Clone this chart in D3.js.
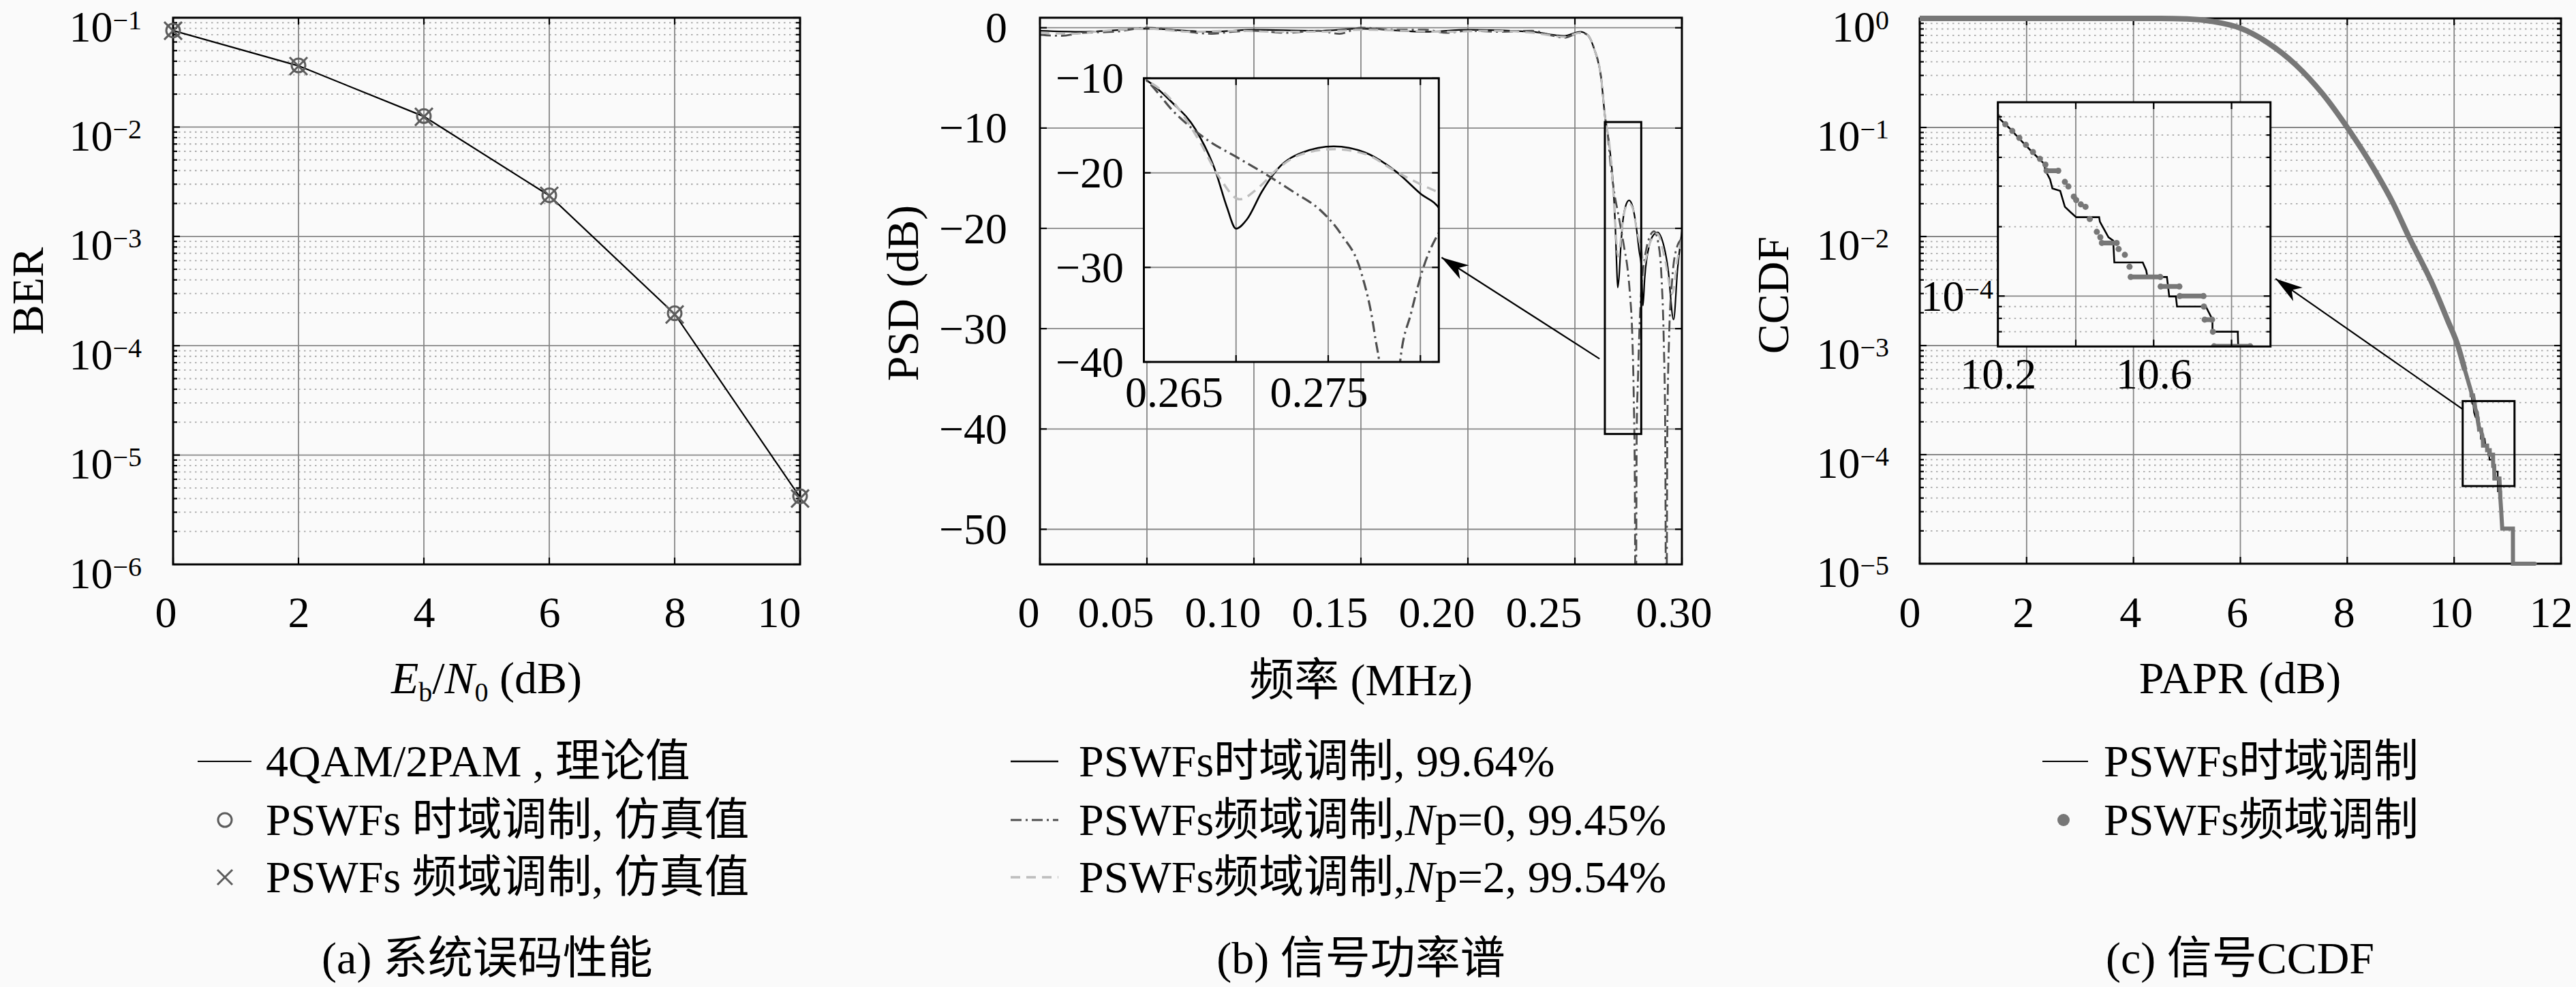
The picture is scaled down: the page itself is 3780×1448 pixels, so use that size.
<!DOCTYPE html>
<html>
<head>
<meta charset="utf-8">
<script src="https://cdn.jsdelivr.net/npm/d3@7"></script>
<style>
  body { margin: 0; background: #fafafa; }
</style>
</head>
<body>
<svg id="fig"></svg>
<script>
// ---- (a) BER ----
const ebn0 = [0, 2, 4, 6, 8, 10];
const berTheory = [0.0762, 0.0363, 0.0125, 0.00236, 0.000195, 4.1e-6];
const berTime = [0.0765, 0.0366, 0.0126, 0.00238, 0.000198, 4.2e-6];
const berFreq = [0.0760, 0.0361, 0.0124, 0.00235, 0.000193, 4.0e-6];
const berTicksX = [0, 2, 4, 6, 8, 10];
const berTicksY = [1e-6, 1e-5, 1e-4, 1e-3, 1e-2, 1e-1];
const berLegend = ["4QAM/2PAM , 理论值", "PSWFs 时域调制, 仿真值", "PSWFs 频域调制, 仿真值"];

// ---- (b) PSD ----
const psdTimeF = [0, 0.02, 0.05, 0.08, 0.10, 0.13, 0.15, 0.18, 0.20, 0.23, 0.245, 0.2525, 0.2558, 0.259, 0.2622,
  0.2643, 0.265, 0.2665, 0.2678, 0.2689, 0.2695, 0.2700, 0.2706, 0.2714, 0.2723, 0.2736, 0.2753, 0.2770, 0.2787,
  0.2800, 0.2811, 0.2818, 0.2826, 0.2850, 0.2870, 0.2887, 0.2905, 0.2935, 0.2961, 0.2980, 0.3000];
const psdTimeDb = [-0.3, -0.4, -0.1, -0.4, -0.2, -0.3, -0.1, -0.4, -0.2, -0.4, -0.8, -0.4, -0.7, -2.1, -4.9,
  -9.2, -10.0, -12.5, -15.4, -19.9, -23.6, -25.9, -24.9, -22.0, -19.5, -17.85, -17.2, -17.85, -19.9,
  -22.2, -24.0, -27.7, -25.0, -21.5, -20.6, -20.4, -21.0, -24.0, -29.1, -24.0, -20.3];
const psdNp0F = [0, 0.01, 0.02, 0.035, 0.05, 0.065, 0.08, 0.09, 0.10, 0.115, 0.13, 0.14, 0.15, 0.165, 0.18,
  0.19, 0.20, 0.215, 0.23, 0.238, 0.245, 0.2525, 0.2558, 0.259, 0.2622, 0.2643, 0.265, 0.2667, 0.2685, 0.2700,
  0.2714, 0.2731, 0.2746, 0.2757, 0.2768, 0.2775, 0.2780, 0.2784, 0.2789, 0.2795, 0.2802, 0.2811, 0.2830,
  0.2850, 0.2870, 0.2890, 0.2905, 0.2915, 0.2922, 0.2927, 0.2932, 0.2940, 0.2955, 0.2975, 0.3000];
const psdNp0Db = [-0.7, -0.8, -0.5, -0.4, 0.0, -0.3, -0.6, -0.4, -0.3, -0.5, -0.3, -0.6, 0.0, -0.2, -0.2,
  -0.5, -0.3, -0.4, -0.3, -0.7, -1.0, -0.5, -0.7, -2.1, -4.9, -9.2, -10.0, -13.7, -16.6, -18.3,
  -19.9, -22.0, -24.0, -26.5, -30.6, -36.8, -45.0, -65.0, -40.0, -34.8, -29.8, -26.0, -22.5,
  -20.8, -20.3, -21.5, -25.0, -31.0, -40.0, -65.0, -40.0, -31.0, -25.0, -22.0, -21.0];
const psdNp2F = [0, 0.015, 0.03, 0.05, 0.07, 0.09, 0.11, 0.13, 0.15, 0.17, 0.19, 0.21, 0.23, 0.245, 0.2525,
  0.2558, 0.259, 0.2622, 0.2643, 0.265, 0.2665, 0.2680, 0.2691, 0.2702, 0.2712, 0.2723, 0.2736, 0.2753, 0.2770,
  0.2787, 0.2800, 0.2811, 0.2822, 0.2850, 0.2885, 0.2920, 0.2955, 0.2980, 0.3000];
const psdNp2Db = [-0.5, -0.6, -0.3, -0.1, -0.4, -0.3, -0.4, -0.4, -0.2, -0.3, -0.4, -0.3, -0.5, -0.9, -0.5,
  -0.7, -2.1, -4.9, -9.2, -10.0, -12.3, -16.6, -20.5, -22.8, -21.6, -19.5, -18.0, -17.5, -18.0,
  -19.9, -21.2, -22.2, -23.5, -21.5, -20.5, -23.0, -26.5, -23.0, -21.0];
const psdTicksX = [0, 0.05, 0.10, 0.15, 0.20, 0.25, 0.30];
const psdTickLabelsX = ["0", "0.05", "0.10", "0.15", "0.20", "0.25", "0.30"];
const psdTicksY = [0, -10, -20, -30, -40, -50];
const psdZoomTicksX = [0.265, 0.27, 0.275, 0.28];
const psdZoomLabelsX = [0.265, 0.275];
const psdZoomTicksY = [-10, -20, -30, -40];
const psdLegend = ["PSWFs时域调制, 99.64%", "PSWFs频域调制,Np=0, 99.45%", "PSWFs频域调制,Np=2, 99.54%"];

// ---- (c) CCDF ----
const ccdfBodyX = [0, 4.5, 5.0, 5.49, 6.0, 6.52, 7.03, 7.54, 8.0, 8.49, 8.86, 9.15, 9.59, 9.88, 10.07, 10.2];
const ccdfBodyY = [1, 1, 0.99, 0.936, 0.814, 0.595, 0.378, 0.203, 0.1, 0.0424, 0.0201, 0.01, 0.0037, 0.0017, 0.001, 5.98e-4];
const ccdfTimeTailX = [10.20, 10.231, 10.259, 10.288, 10.318, 10.322, 10.334, 10.340, 10.360, 10.372, 10.387,
  10.401, 10.460, 10.462, 10.484, 10.496, 10.499, 10.572, 10.581, 10.584, 10.634, 10.640, 10.657, 10.660,
  10.734, 10.751, 10.751, 10.816, 10.819, 10.88, 10.88, 11.09, 11.09];
const ccdfTimeTailY = [5.98e-4, 5.33e-4, 4.74e-4, 4.22e-4, 3.76e-4, 3.51e-4, 3.21e-4, 2.93e-4, 2.86e-4, 2.44e-4, 2.31e-4,
  2.20e-4, 2.20e-4, 2.10e-4, 1.80e-4, 1.74e-4, 1.40e-4, 1.40e-4, 1.29e-4, 1.21e-4, 1.21e-4, 9.96e-5, 9.96e-5, 9.0e-5,
  9.0e-5, 7.9e-5, 7.0e-5, 7.0e-5, 4.6e-5, 4.6e-5, 2.1e-5, 2.1e-5, 1.0e-5];
const ccdfFreqTailX = [10.20, 10.219, 10.237, 10.255, 10.272, 10.290, 10.308, 10.322, 10.325, 10.355, 10.372,
  10.381, 10.395, 10.401, 10.413, 10.425, 10.436, 10.454, 10.463, 10.467, 10.505, 10.510, 10.526, 10.538,
  10.541, 10.617, 10.618, 10.666, 10.667, 10.728, 10.729, 10.731, 10.750, 10.752, 10.755, 10.848, 10.855,
  10.865, 10.880, 10.900, 11.100, 11.101, 11.510];
const ccdfFreqTailY = [5.98e-4, 5.57e-4, 5.21e-4, 4.86e-4, 4.53e-4, 4.22e-4, 3.94e-4, 3.72e-4, 3.5e-4, 3.5e-4, 3.13e-4,
  2.99e-4, 2.7e-4, 2.61e-4, 2.5e-4, 2.44e-4, 2.16e-4, 1.9e-4, 1.8e-4, 1.7e-4, 1.7e-4, 1.6e-4, 1.51e-4, 1.34e-4,
  1.21e-4, 1.21e-4, 1.10e-4, 1.10e-4, 1.0e-4, 1.0e-4, 9.0e-5, 7.9e-5, 7.9e-5, 7.0e-5, 6.05e-5, 6.05e-5, 5.0e-5,
  4.0e-5, 3.1e-5, 2.1e-5, 2.1e-5, 1.0e-5, 1.0e-5];
const ccdfTicksX = [0, 2, 4, 6, 8, 10, 12];
const ccdfTicksY = [1e-5, 1e-4, 1e-3, 1e-2, 1e-1, 1];
const ccdfZoomTicksX = [10.2, 10.4, 10.6, 10.8];
const ccdfZoomLabelsX = [10.2, 10.6];
const ccdfLegend = ["PSWFs时域调制", "PSWFs频域调制"];

// ---------- drawing ----------
const W = 3780, H = 1448;
const BG = "#fafafa", GRID = "#868686", MINOR = "#a8a8a8";
const SERIF = '"Liberation Serif", "Noto Sans CJK SC", serif';
const TICK_FS = 64, SUP_FS = 40, LAB_FS = 66;

const svg = d3.select("#fig").attr("width", W).attr("height", H).style("display", "block")
  .attr("font-family", SERIF);
svg.append("rect").attr("width", W).attr("height", H).attr("fill", BG);
const defs = svg.append("defs");

function area(x, y) {
  return { x0: x.range()[0], x1: x.range()[1], yb: y.range()[0], yt: y.range()[1] };
}

function minorLog(scale) {
  const [lo, hi] = scale.domain();
  const vals = [];
  for (let e = Math.floor(Math.log10(lo)); e <= Math.ceil(Math.log10(hi)); e++) {
    for (let m = 2; m <= 9; m++) {
      const v = m * Math.pow(10, e);
      if (v > lo * 1.0001 && v < hi * 0.9999) vals.push(v);
    }
  }
  return vals;
}

function clipFor(id, x, y) {
  const a = area(x, y);
  defs.append("clipPath").attr("id", id).append("rect")
    .attr("x", a.x0).attr("y", a.yt).attr("width", a.x1 - a.x0).attr("height", a.yb - a.yt);
  return "url(#" + id + ")";
}

function background(g, x, y) {
  const a = area(x, y);
  g.append("rect").attr("x", a.x0).attr("y", a.yt).attr("width", a.x1 - a.x0).attr("height", a.yb - a.yt)
    .attr("fill", BG);
}

function grid(g, x, y, xs, ys, yMinor) {
  const a = area(x, y);
  if (yMinor) {
    g.append("g").selectAll("line").data(yMinor).join("line")
      .attr("x1", a.x0).attr("x2", a.x1).attr("y1", d => y(d)).attr("y2", d => y(d))
      .attr("stroke", MINOR).attr("stroke-width", 1.8).attr("stroke-dasharray", "2.5 5.5");
  }
  g.append("g").selectAll("line").data(xs).join("line")
    .attr("x1", d => x(d)).attr("x2", d => x(d)).attr("y1", a.yt).attr("y2", a.yb)
    .attr("stroke", GRID).attr("stroke-width", 1.8);
  g.append("g").selectAll("line").data(ys).join("line")
    .attr("x1", a.x0).attr("x2", a.x1).attr("y1", d => y(d)).attr("y2", d => y(d))
    .attr("stroke", GRID).attr("stroke-width", 1.8);
}

function frame(g, x, y, xs, ys, yMinor) {
  const a = area(x, y);
  const t = g.append("g").attr("stroke", "#000").attr("stroke-width", 2.2);
  xs.forEach(v => {
    t.append("line").attr("x1", x(v)).attr("x2", x(v)).attr("y1", a.yb).attr("y2", a.yb - 10);
    t.append("line").attr("x1", x(v)).attr("x2", x(v)).attr("y1", a.yt).attr("y2", a.yt + 10);
  });
  ys.forEach(v => {
    t.append("line").attr("x1", a.x0).attr("x2", a.x0 + 10).attr("y1", y(v)).attr("y2", y(v));
    t.append("line").attr("x1", a.x1).attr("x2", a.x1 - 10).attr("y1", y(v)).attr("y2", y(v));
  });
  (yMinor || []).forEach(v => {
    t.append("line").attr("x1", a.x0).attr("x2", a.x0 + 6).attr("y1", y(v)).attr("y2", y(v));
    t.append("line").attr("x1", a.x1).attr("x2", a.x1 - 6).attr("y1", y(v)).attr("y2", y(v));
  });
  g.append("rect").attr("x", a.x0).attr("y", a.yt).attr("width", a.x1 - a.x0).attr("height", a.yb - a.yt)
    .attr("fill", "none").attr("stroke", "#000").attr("stroke-width", 3);
}

function xLabels(g, x, yBase, vals, fmt, shift) {
  const ax = g.append("g").attr("transform", `translate(0,${yBase})`)
    .call(d3.axisBottom(x).tickValues(vals).tickSize(0).tickPadding(0).tickFormat(fmt));
  ax.select(".domain").remove();
  ax.attr("font-family", SERIF).attr("font-size", TICK_FS);
  ax.selectAll(".tick text").attr("y", 0).attr("dy", null).attr("fill", "#000")
    .attr("dx", (d, i) => shift ? shift(i, vals.length) : 0);
}

function yLabels(g, y, xRight, vals, fmt) {
  const ax = g.append("g").attr("transform", `translate(${xRight},0)`)
    .call(d3.axisLeft(y).tickValues(vals).tickSize(0).tickPadding(0).tickFormat(fmt));
  ax.select(".domain").remove();
  ax.attr("font-family", SERIF).attr("font-size", TICK_FS);
  ax.selectAll(".tick text").attr("x", 0).attr("dy", "0.33em").attr("fill", "#000");
}

function yPowLabels(g, y, xRight, vals, yOff) {
  const ax = g.append("g").attr("transform", `translate(${xRight},0)`)
    .call(d3.axisLeft(y).tickValues(vals).tickSize(0).tickPadding(0).tickFormat(() => ""));
  ax.select(".domain").remove();
  ax.attr("font-family", SERIF).attr("font-size", TICK_FS);
  ax.selectAll(".tick text").attr("x", 0).attr("dy", null).attr("y", yOff).attr("fill", "#000")
    .each(function (d) {
      const e = Math.round(Math.log10(d));
      const t = d3.select(this);
      t.append("tspan").text("10");
      t.append("tspan").attr("dy", -18).attr("font-size", SUP_FS).text(e < 0 ? "\u2212" + (-e) : String(e));
    });
}

function yTitle(g, xBase, yMid, txt) {
  g.append("text").attr("transform", `translate(${xBase},${yMid}) rotate(-90)`)
    .attr("text-anchor", "middle").attr("font-size", LAB_FS).text(txt);
}

function caption(g, xMid, txt) {
  g.append("text").attr("x", xMid).attr("y", 1428).attr("text-anchor", "middle")
    .attr("font-size", LAB_FS).text(txt);
}

function arrow(g, x1, y1, x2, y2) {
  g.append("line").attr("x1", x1).attr("y1", y1).attr("x2", x2).attr("y2", y2)
    .attr("stroke", "#000").attr("stroke-width", 2.2);
  const L = 40, w = 12;
  const ang = Math.atan2(y2 - y1, x2 - x1);
  const ux = Math.cos(ang), uy = Math.sin(ang), nx = -uy, ny = ux;
  const pts = [
    [x2, y2],
    [x2 - L * ux + w * nx, y2 - L * uy + w * ny],
    [x2 - 0.72 * L * ux, y2 - 0.72 * L * uy],
    [x2 - L * ux - w * nx, y2 - L * uy - w * ny]
  ];
  g.append("polygon").attr("points", pts.map(p => p.join(",")).join(" ")).attr("fill", "#000");
}

const crossPath = s => `M${-s},${-s}L${s},${s}M${-s},${s}L${s},${-s}`;
const legendRows = [1117, 1203, 1287];

// ================= (a) =================
const xA = d3.scaleLinear().domain([0, 10]).range([254, 1174]);
const yA = d3.scaleLog().domain([1e-6, 1e-1]).range([828, 26]);
const gA = svg.append("g");
background(gA, xA, yA);
grid(gA, xA, yA, [2, 4, 6, 8], berTicksY, minorLog(yA));
gA.append("path").datum(d3.zip(ebn0, berTheory))
  .attr("d", d3.line().x(d => xA(d[0])).y(d => yA(d[1])))
  .attr("fill", "none").attr("stroke", "#000").attr("stroke-width", 2.2);
frame(gA, xA, yA, berTicksX, berTicksY, minorLog(yA));
gA.append("g").selectAll("circle").data(d3.zip(ebn0, berTime)).join("circle")
  .attr("cx", d => xA(d[0])).attr("cy", d => yA(d[1])).attr("r", 10)
  .attr("fill", "none").attr("stroke", "#5c5c5c").attr("stroke-width", 3);
gA.append("g").selectAll("path").data(d3.zip(ebn0, berFreq)).join("path")
  .attr("transform", d => `translate(${xA(d[0])},${yA(d[1])})`).attr("d", crossPath(13))
  .attr("stroke", "#5c5c5c").attr("stroke-width", 3);
xLabels(gA, xA, 920, berTicksX, d3.format("d"), (i, n) => i === 0 ? -11 : (i === n - 1 ? -31 : 0));
yPowLabels(gA, yA, 208, berTicksY, 34);
yTitle(gA, 63, 427, "BER");
{
  const t = gA.append("text").attr("x", 714).attr("y", 1017).attr("text-anchor", "middle").attr("font-size", LAB_FS);
  t.append("tspan").attr("font-style", "italic").text("E");
  t.append("tspan").attr("font-size", 40).attr("dy", 12).text("b");
  t.append("tspan").attr("dy", -12).text("/");
  t.append("tspan").attr("font-style", "italic").text("N");
  t.append("tspan").attr("font-size", 40).attr("dy", 12).text("0");
  t.append("tspan").attr("dy", -12).text(" (dB)");
}
// legend (a)
const legA = gA.append("g");
legA.append("line").attr("x1", 290).attr("x2", 369).attr("y1", legendRows[0]).attr("y2", legendRows[0])
  .attr("stroke", "#000").attr("stroke-width", 2.2);
legA.append("circle").attr("cx", 330).attr("cy", legendRows[1]).attr("r", 10)
  .attr("fill", "none").attr("stroke", "#5c5c5c").attr("stroke-width", 3);
legA.append("path").attr("transform", `translate(330,${legendRows[2]})`).attr("d", crossPath(11))
  .attr("stroke", "#5c5c5c").attr("stroke-width", 3);
legA.selectAll("text").data(berLegend).join("text")
  .attr("x", 390).attr("y", (d, i) => legendRows[i] + 22).attr("font-size", LAB_FS).text(d => d);
caption(gA, 715, "(a) 系统误码性能");

// ================= (b) =================
const xB = d3.scaleLinear().domain([0, 0.30]).range([1526, 2468]);
const yB = d3.scaleLinear().domain([-53.5, 1]).range([828, 26]);
const gB = svg.append("g");
const psdStyles = [
  { stroke: "#000", width: 2.2, dash: null },
  { stroke: "#4e4e4e", width: 2.8, dash: "16 6 3 6" },
  { stroke: "#bdbdbd", width: 3.0, dash: "14 9" }
];
const psdData = [d3.zip(psdTimeF, psdTimeDb), d3.zip(psdNp0F, psdNp0Db), d3.zip(psdNp2F, psdNp2Db)];

background(gB, xB, yB);
grid(gB, xB, yB, psdTicksX, psdTicksY, null);
const clipB = clipFor("clipB", xB, yB);
const lineB = d3.line().curve(d3.curveMonotoneX).x(d => xB(d[0])).y(d => yB(d[1]));
gB.append("g").attr("clip-path", clipB).selectAll("path").data(psdData).join("path")
  .attr("d", lineB).attr("fill", "none")
  .attr("stroke", (d, i) => psdStyles[i].stroke).attr("stroke-width", (d, i) => psdStyles[i].width)
  .attr("stroke-dasharray", (d, i) => psdStyles[i].dash);
frame(gB, xB, yB, psdTicksX, psdTicksY, null);
xLabels(gB, xB, 920, psdTicksX, (d, i) => psdTickLabelsX[i], (i, n) => i === 0 ? -17 : (i === n - 1 ? -12 : -46));
yLabels(gB, yB, 1478, psdTicksY, d => d < 0 ? "\u2212" + (-d) : String(d));
yTitle(gB, 1347, 430, "PSD (dB)");
gB.append("text").attr("x", 1997).attr("y", 1020).attr("text-anchor", "middle").attr("font-size", LAB_FS)
  .text("频率 (MHz)");

// zoom rectangle and arrow
gB.append("rect").attr("x", xB(0.264)).attr("y", yB(-9.4))
  .attr("width", xB(0.281) - xB(0.264)).attr("height", yB(-40.5) - yB(-9.4))
  .attr("fill", "none").attr("stroke", "#000").attr("stroke-width", 3);
arrow(gB, xB(0.2615), yB(-33.0), xB(0.1877), yB(-22.9));

// inset (b)
const xBi = d3.scaleLinear().domain([0.265, 0.281]).range([1678.5, 2111.3]);
const yBi = d3.scaleLinear().domain([-40, -10]).range([531, 114.8]);
background(gB, xBi, yBi);
grid(gB, xBi, yBi, psdZoomTicksX, psdZoomTicksY, null);
const clipBi = clipFor("clipBi", xBi, yBi);
const lineBi = d3.line().curve(d3.curveMonotoneX).x(d => xBi(d[0])).y(d => yBi(d[1]));
gB.append("g").attr("clip-path", clipBi).selectAll("path").data(psdData).join("path")
  .attr("d", lineBi).attr("fill", "none")
  .attr("stroke", (d, i) => psdStyles[i].stroke).attr("stroke-width", (d, i) => psdStyles[i].width + 0.4)
  .attr("stroke-dasharray", (d, i) => psdStyles[i].dash);
frame(gB, xBi, yBi, psdZoomTicksX, psdZoomTicksY, null);
xLabels(gB, xBi, 597, psdZoomLabelsX, d3.format(".3f"), i => i === 0 ? 44 : -14);
yLabels(gB, yBi, 1649, psdZoomTicksY, d => "\u2212" + (-d));

// legend (b)
const legB = gB.append("g");
legB.selectAll("line").data(psdStyles).join("line")
  .attr("x1", 1483).attr("x2", 1553).attr("y1", (d, i) => legendRows[i]).attr("y2", (d, i) => legendRows[i])
  .attr("stroke", d => d.stroke).attr("stroke-width", d => d.width + 0.4).attr("stroke-dasharray", d => d.dash);
legB.selectAll("text").data(psdLegend).join("text")
  .attr("x", 1583).attr("y", (d, i) => legendRows[i] + 22).attr("font-size", LAB_FS)
  .each(function (d) {
    const t = d3.select(this);
    d.split("N").forEach((part, k) => {
      if (k > 0) t.append("tspan").attr("font-style", "italic").text("N");
      t.append("tspan").text(part);
    });
  });
caption(gB, 1997, "(b) 信号功率谱");

// ================= (c) =================
const xC = d3.scaleLinear().domain([0, 12]).range([2817, 3758]);
const yC = d3.scaleLog().domain([1e-5, 1]).range([827, 27]);
const gC = svg.append("g");
const GRAY = "#777";
const body = d3.zip(ccdfBodyX, ccdfBodyY);
const timeTail = d3.zip(ccdfTimeTailX, ccdfTimeTailY);
const freqTail = d3.zip(ccdfFreqTailX, ccdfFreqTailY);

background(gC, xC, yC);
grid(gC, xC, yC, ccdfTicksX, ccdfTicksY, minorLog(yC));
frame(gC, xC, yC, ccdfTicksX, ccdfTicksY, minorLog(yC));
const bodyLine = d3.line().curve(d3.curveMonotoneX).x(d => xC(d[0])).y(d => yC(d[1]));
const tailLine = d3.line().x(d => xC(d[0])).y(d => yC(d[1]));
gC.append("path").datum(body).attr("d", bodyLine).attr("fill", "none").attr("stroke", "#000").attr("stroke-width", 2.2);
gC.append("path").datum(timeTail).attr("d", tailLine).attr("fill", "none").attr("stroke", "#000").attr("stroke-width", 2.2);
gC.append("path").datum(body).attr("d", bodyLine).attr("fill", "none").attr("stroke", GRAY).attr("stroke-width", 8);
gC.append("path").datum(freqTail).attr("d", tailLine).attr("fill", "none").attr("stroke", GRAY)
  .attr("stroke-width", 6).attr("stroke-linecap", "round");
xLabels(gC, xC, 920, ccdfTicksX, d3.format("d"), (i, n) => (i === 0 || i === n - 1) ? -15 : -5);
yPowLabels(gC, yC, 2772, ccdfTicksY, 33);
yTitle(gC, 2624, 433, "CCDF");
gC.append("text").attr("x", 3287).attr("y", 1017).attr("text-anchor", "middle").attr("font-size", LAB_FS)
  .text("PAPR (dB)");

// zoom rectangle and arrow
gC.append("rect").attr("x", xC(10.16)).attr("y", yC(3.1e-4))
  .attr("width", xC(11.13) - xC(10.16)).attr("height", yC(5.15e-5) - yC(3.1e-4))
  .attr("fill", "none").attr("stroke", "#000").attr("stroke-width", 3);
arrow(gC, xC(10.156), yC(2.62e-4), xC(6.658), yC(4.1e-3));

// inset (c)
const xCi = d3.scaleLinear().domain([10.2, 10.9]).range([2931.7, 3331.7]);
const yCi = d3.scaleLog().domain([6.04e-5, 6.94e-4]).range([508.3, 150]);
background(gC, xCi, yCi);
grid(gC, xCi, yCi, ccdfZoomTicksX, [1e-4], minorLog(yCi));
const clipCi = clipFor("clipCi", xCi, yCi);
const gCi = gC.append("g").attr("clip-path", clipCi);
gCi.append("path").datum(timeTail)
  .attr("d", d3.line().x(d => xCi(d[0])).y(d => yCi(d[1])))
  .attr("fill", "none").attr("stroke", "#000").attr("stroke-width", 2.6);
const runs = d3.pairs(freqTail).filter(p => p[0][1] === p[1][1]);
gCi.append("g").selectAll("line").data(runs).join("line")
  .attr("x1", p => xCi(p[0][0])).attr("x2", p => xCi(p[1][0]))
  .attr("y1", p => yCi(p[0][1])).attr("y2", p => yCi(p[1][1]))
  .attr("stroke", GRAY).attr("stroke-width", 7).attr("stroke-linecap", "round");
gCi.append("g").selectAll("circle").data(freqTail).join("circle")
  .attr("cx", d => xCi(d[0])).attr("cy", d => yCi(d[1])).attr("r", 4.5).attr("fill", GRAY);
frame(gC, xCi, yCi, ccdfZoomTicksX, [1e-4], minorLog(yCi));
xLabels(gC, xCi, 570, ccdfZoomLabelsX, d3.format(".1f"), null);
yPowLabels(gC, yCi, 2925, [1e-4], 21);

// legend (c)
const legC = gC.append("g");
legC.append("line").attr("x1", 2997).attr("x2", 3064).attr("y1", legendRows[0]).attr("y2", legendRows[0])
  .attr("stroke", "#000").attr("stroke-width", 2.2);
legC.append("circle").attr("cx", 3028).attr("cy", legendRows[1]).attr("r", 9).attr("fill", GRAY);
legC.selectAll("text").data(ccdfLegend).join("text")
  .attr("x", 3087).attr("y", (d, i) => legendRows[i] + 22).attr("font-size", LAB_FS).text(d => d);
caption(gC, 3287, "(c) 信号CCDF");
</script>
</body>
</html>
